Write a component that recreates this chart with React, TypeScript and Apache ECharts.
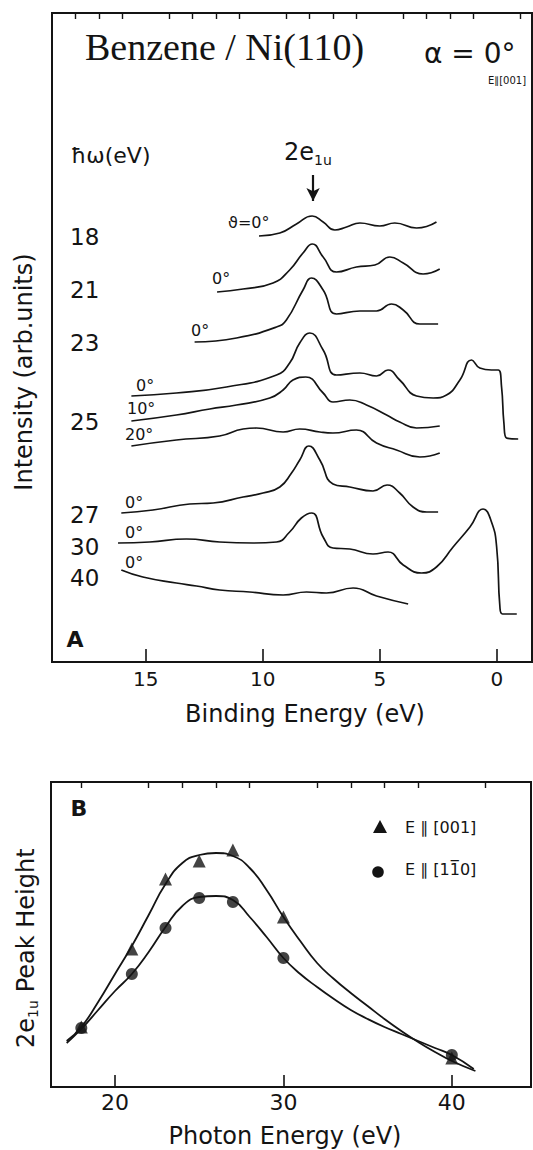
import React, { useEffect, useRef } from "react";
import * as echarts from "echarts";

// ---------- Panel A: photoemission spectra (binding energy eV, intensity arb. units) ----------
const spec18 = [[10.16,426],[9.27,429],[8.56,438],[7.89,446],[7.42,440],[6.92,432],[6.42,435],[5.85,439],[5.0,436],[4.36,439],[3.43,434],[2.58,440]];
const spec21 = [[11.95,370],[10.84,373],[9.56,379],[8.85,392],[8.28,409],[7.88,418],[7.42,405],[6.85,390],[6.0,395],[5.21,397],[4.57,405],[4.0,399],[3.15,388],[2.44,393]];
const spec23 = [[12.91,320],[11.12,324],[9.41,335],[8.99,342],[8.28,372],[7.92,384],[7.42,372],[6.85,348],[5.85,351],[5.14,351],[4.5,358],[4.0,352],[3.29,338],[2.51,338]];
const spec25a0 = [[15.61,266],[13.69,269],[11.55,275],[9.41,287],[8.85,299],[8.42,319],[7.99,329],[7.42,312],[6.85,287],[5.85,289],[5.14,286],[4.65,292],[4.15,282],[3.43,266],[2.72,264],[2.15,267],[1.58,282],[1.08,302],[0.73,294],[0.23,292],[-0.06,292],[-0.2,275],[-0.3,239],[-0.41,224],[-0.91,223]];
const spec25a10 = [[15.61,241],[13.69,247],[12.26,253],[11.12,257],[9.7,264],[9.13,272],[8.71,282],[8.16,285],[7.42,269],[7.0,260],[6.28,262],[5.57,257],[4.71,247],[4.15,240],[3.43,234],[2.44,236]];
const spec25a20 = [[15.61,216],[13.69,222],[11.84,226],[10.84,233],[10.27,234],[9.13,230],[8.42,233],[7.56,230],[7.0,229],[6.0,232],[5.14,219],[4.29,212],[3.29,205],[2.44,209]];
const spec27 = [[16.04,149],[14.69,152],[13.12,158],[12.12,159],[10.84,165],[9.99,169],[9.27,175],[8.77,189],[8.42,202],[8.03,216],[7.56,202],[7.0,178],[6.28,175],[5.29,171],[4.69,177],[4.15,169],[3.58,155],[3.0,150],[2.51,150]];
const spec30 = [[16.18,119],[14.83,120],[13.26,123],[11.84,120],[10.41,119],[9.41,120],[8.85,130],[8.35,144],[7.91,149],[7.42,125],[7.0,114],[6.28,113],[5.29,108],[4.65,110],[4.0,97],[3.22,89],[2.58,95],[1.87,115],[1.15,135],[0.59,153],[0.23,140],[0.01,115],[-0.13,55],[-0.24,48],[-0.85,48]];
const spec40 = [[16.04,92],[15.12,85],[13.69,79],[12.83,76],[11.84,72],[10.56,70],[9.13,67],[8.13,70],[7.28,69],[6.14,74],[5.14,66],[3.79,58]];

const photonLabels = ["18", "21", "23", "25", "27", "30", "40"];
const angleLabels = ["\u03d1=0°", "0°", "0°", "0°", "10°", "20°", "0°", "0°", "0°"];
const bindingMajorTicks = [0, 5, 10, 15];
const bindingMinorTicks = [-1, 1, 2, 3, 4, 6, 7, 8, 9, 11, 12, 13, 14, 16, 17, 18];
const peakPosition = 7.85; // 2e1u

// ---------- Panel B: 2e1u peak height vs photon energy ----------
const photonEnergy = [18, 21, 23, 25, 27, 30, 40];
const height001 = [60, 138, 208, 226, 237, 170, 29];
const height1m10 = [59, 113, 159, 189, 185, 129, 32];
const fit001 = [[17.13,46],[18,60],[19,85],[20,113],[21,141],[22,172],[23,203],[24,224],[25,232],[26,234],[27,231],[28,219],[29,197],[30,170],[31,146],[32,124],[33,108],[34,94],[35,81],[36,68],[37,56],[38,45],[39,35],[40,26],[41.4,16]];
const fit1m10 = [[17.13,44],[18,58],[19,77],[20,96],[21,113],[22,135],[23,160],[24,181],[25,190],[26,191],[27,187],[28,170],[29,150],[30,129],[31,113],[32,100],[33,88],[34,77],[35,68],[36,60],[37,53],[38,46],[39,39],[40,32],[41.3,18]];
const photonMajorTicks = [20, 30, 40];
const photonMinorTicks = [18, 22, 24, 26, 28, 32, 34, 36, 38, 42];
const legendNames = ["E \u2225 [001]", "E \u2225 [11\u03050]"];

const INK = "#141414";
const SANS = "DejaVu Sans";

// layout (pixels)
const photonLabelY = [237, 290, 343, 422, 515, 547, 578];
const angleLabelPos = [[228,222],[212,278],[191,330],[136,385],[127,408],[125,434],[125,502],[125,532],[125,562]];

function spectrumSeries(data: number[][], withArrow = false) {
  const s: any = {
    type: "line",
    xAxisIndex: 0,
    yAxisIndex: 0,
    data,
    symbol: "none",
    showSymbol: false,
    smooth: 0.5,
    silent: true,
    lineStyle: { color: INK, width: 1.7 },
  };
  if (withArrow) {
    s.markLine = {
      silent: true,
      symbol: ["none", "arrow"],
      symbolSize: [10, 13],
      label: { show: false },
      lineStyle: { color: INK, width: 2.2, type: "solid" },
      data: [[{ coord: [peakPosition, 487] }, { coord: [peakPosition, 461] }]],
    };
  }
  return s;
}

export default function App() {
  const ref = useRef<HTMLDivElement>(null);
  useEffect(() => {
    document.body.style.margin = "0";
    const chart = echarts.init(ref.current!, null, { renderer: "svg" });

    const graphics: any[] = [
      { type: "text", left: 85, top: 28, style: { text: "Benzene / Ni(110)", font: '38px "Liberation Serif", "Times New Roman", serif', fill: INK } },
      { type: "text", x: 424, y: 53, style: { text: "\u03b1 = 0°", fontFamily: SANS, fontSize: 28, fill: INK, verticalAlign: "middle" } },
      { type: "text", x: 507, y: 80, style: { text: "E\u2225[001]", fontFamily: SANS, fontSize: 10, fill: INK, align: "center", verticalAlign: "middle" } },
      { type: "text", x: 71, y: 155, style: { text: "\u0127\u03c9(eV)", fontFamily: SANS, fontSize: 22, fill: INK, verticalAlign: "middle" } },
      { type: "text", x: 284, y: 152, style: { text: "2e", fontFamily: SANS, fontSize: 24, fill: INK, verticalAlign: "middle" } },
      { type: "text", x: 314, y: 160, style: { text: "1u", fontFamily: SANS, fontSize: 14, fill: INK, verticalAlign: "middle" } },
      { type: "text", x: 75, y: 639, style: { text: "A", fontFamily: SANS, fontSize: 22, fontWeight: "bold", fill: INK, align: "center", verticalAlign: "middle" } },
      { type: "text", x: 24, y: 372, rotation: Math.PI / 2, style: { text: "Intensity (arb.units)", fontFamily: SANS, fontSize: 24, fill: INK, align: "center", verticalAlign: "middle" } },
      { type: "text", x: 79, y: 808, style: { text: "B", fontFamily: SANS, fontSize: 22, fontWeight: "bold", fill: INK, align: "center", verticalAlign: "middle" } },
      {
        type: "group", x: 26, y: 947, rotation: Math.PI / 2,
        children: [
          { type: "text", x: -101, y: 0, style: { text: "2e", fontFamily: SANS, fontSize: 24, fill: INK, verticalAlign: "middle" } },
          { type: "text", x: -71, y: 7, style: { text: "1u", fontFamily: SANS, fontSize: 14, fill: INK, verticalAlign: "middle" } },
          { type: "text", x: -53, y: 0, style: { text: " Peak Height", fontFamily: SANS, fontSize: 24, fill: INK, verticalAlign: "middle" } },
        ],
      },
      // legend of panel B
      { type: "polygon", shape: { points: [[380, 820], [387, 833], [373, 833]] }, style: { fill: INK } },
      { type: "text", x: 405, y: 827, style: { text: legendNames[0], fontFamily: SANS, fontSize: 16, fill: INK, verticalAlign: "middle" } },
      { type: "circle", shape: { cx: 378, cy: 872, r: 5.8 }, style: { fill: INK } },
      { type: "text", x: 405, y: 869, style: { text: legendNames[1], fontFamily: SANS, fontSize: 16, fill: INK, verticalAlign: "middle" } },
    ];
    photonLabels.forEach((t, i) => {
      graphics.push({ type: "text", x: 70, y: photonLabelY[i], style: { text: t, fontFamily: SANS, fontSize: 23, fill: INK, verticalAlign: "middle" } });
    });
    angleLabels.forEach((t, i) => {
      graphics.push({ type: "text", x: angleLabelPos[i][0], y: angleLabelPos[i][1], style: { text: t, fontFamily: SANS, fontSize: 16, fill: INK, verticalAlign: "middle" } });
    });

    const axisCommon = { type: "value", splitLine: { show: false } };

    chart.setOption({
      animation: false,
      backgroundColor: "#ffffff",
      textStyle: { fontFamily: SANS, color: INK },
      grid: [
        { left: 52, top: 13, width: 480, height: 649, show: true, borderColor: INK, borderWidth: 2, backgroundColor: "transparent" },
        { left: 51, top: 782, width: 480, height: 305, show: true, borderColor: INK, borderWidth: 2, backgroundColor: "transparent" },
      ],
      xAxis: [
        {
          ...axisCommon, gridIndex: 0, inverse: true, min: -1.5, max: 19,
          axisLine: { show: true, lineStyle: { color: INK, width: 2 } },
          axisTick: { show: true, inside: true, length: 13, customValues: bindingMajorTicks, lineStyle: { color: INK, width: 1.6 } },
          axisLabel: { show: true, customValues: bindingMajorTicks, fontFamily: SANS, fontSize: 20, color: INK, margin: 7 },
          name: "Binding Energy (eV)", nameLocation: "middle", nameGap: 40,
          nameTextStyle: { fontFamily: SANS, fontSize: 24, color: INK, padding: [0, 0, 0, 26] },
        },
        {
          ...axisCommon, gridIndex: 0, inverse: true, min: -1.5, max: 19,
          axisLine: { show: false },
          axisTick: { show: true, inside: true, length: 6, customValues: bindingMinorTicks, lineStyle: { color: INK, width: 1.4 } },
          axisLabel: { show: false },
        },
        {
          ...axisCommon, gridIndex: 1, min: 16.2, max: 44.7,
          axisLine: { show: true, lineStyle: { color: INK, width: 2 } },
          axisTick: { show: true, inside: true, length: 12, customValues: photonMajorTicks, lineStyle: { color: INK, width: 1.6 } },
          axisLabel: { show: true, customValues: photonMajorTicks, fontFamily: SANS, fontSize: 22, color: INK, margin: 4 },
          name: "Photon Energy (eV)", nameLocation: "middle", nameGap: 37,
          nameTextStyle: { fontFamily: SANS, fontSize: 24, color: INK, padding: [0, 12, 0, 0] },
        },
        {
          ...axisCommon, gridIndex: 1, min: 16.2, max: 44.7,
          axisLine: { show: false },
          axisTick: { show: true, inside: true, length: 6, customValues: photonMinorTicks, lineStyle: { color: INK, width: 1.4 } },
          axisLabel: { show: false },
        },
      ],
      yAxis: [
        { ...axisCommon, gridIndex: 0, min: 0, max: 649, show: false },
        { ...axisCommon, gridIndex: 1, min: 0, max: 305, show: false },
      ],
      series: [
        spectrumSeries(spec18, true),
        spectrumSeries(spec21),
        spectrumSeries(spec23),
        spectrumSeries(spec25a0),
        spectrumSeries(spec25a10),
        spectrumSeries(spec25a20),
        spectrumSeries(spec27),
        spectrumSeries(spec30),
        spectrumSeries(spec40),
        {
          type: "line", name: "fit001", xAxisIndex: 2, yAxisIndex: 1, data: fit001,
          symbol: "none", smooth: 0.5, silent: true, lineStyle: { color: INK, width: 1.8 },
        },
        {
          type: "line", name: "fit1m10", xAxisIndex: 2, yAxisIndex: 1, data: fit1m10,
          symbol: "none", smooth: 0.5, silent: true, lineStyle: { color: INK, width: 1.8 },
        },
        {
          type: "scatter", name: legendNames[0], xAxisIndex: 2, yAxisIndex: 1,
          data: photonEnergy.map((e, i) => [e, height001[i]]),
          symbol: "triangle", symbolSize: 13, itemStyle: { color: INK }, z: 5,
        },
        {
          type: "scatter", name: legendNames[1], xAxisIndex: 2, yAxisIndex: 1,
          data: photonEnergy.map((e, i) => [e, height1m10[i]]),
          symbol: "circle", symbolSize: 12, itemStyle: { color: INK }, z: 5,
        },
      ],
      graphic: graphics,
    });
    return () => chart.dispose();
  }, []);
  return <div ref={ref} style={{ width: 533, height: 1150 }} />;
}
